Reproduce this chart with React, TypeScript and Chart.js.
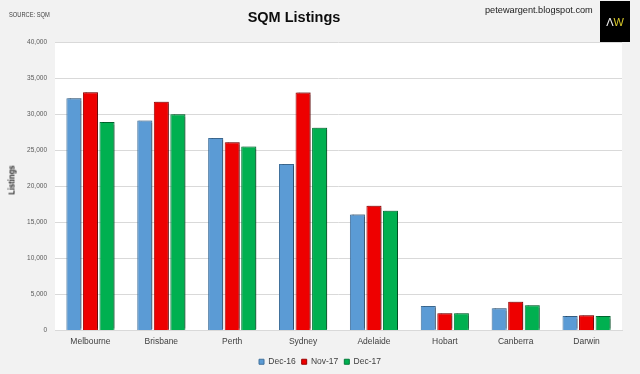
import React, { useEffect, useRef } from "react";
import { Chart, registerables } from "chart.js";

Chart.register(...registerables);

const categories = ["Melbourne", "Brisbane", "Perth", "Sydney", "Adelaide", "Hobart", "Canberra", "Darwin"];
const seriesNames = ["Dec-16", "Nov-17", "Dec-17"];
const dec16 = [32200, 29100, 26700, 23100, 16100, 3400, 3100, 2000];
const nov17 = [33050, 31700, 26100, 33000, 17300, 2400, 4000, 2100];
const dec17 = [28900, 30000, 25500, 28100, 16600, 2400, 3500, 2000];
const yMin = 0;
const yMax = 40000;
const yStep = 5000;

const SANS = "'Liberation Sans', Arial, sans-serif";

const plotBg = {
  id: "plotBg",
  beforeDraw(chart: any) {
    const { ctx, chartArea } = chart;
    if (!chartArea) return;
    ctx.save();
    ctx.fillStyle = "#ffffff";
    ctx.fillRect(chartArea.left, chartArea.top, chartArea.right - chartArea.left, chartArea.bottom - chartArea.top);
    ctx.restore();
  },
};

const barShadow = {
  id: "barShadow",
  beforeDatasetsDraw(chart: any) {
    const ctx = chart.ctx;
    ctx.save();
    ctx.shadowColor = "rgba(0,0,0,0.35)";
    ctx.shadowOffsetX = 1.5;
    ctx.shadowOffsetY = -1;
    ctx.shadowBlur = 1;
  },
  afterDatasetsDraw(chart: any) {
    chart.ctx.restore();
  },
};

export default function App() {
  const canvasRef = useRef<HTMLCanvasElement | null>(null);

  useEffect(() => {
    document.body.style.margin = "0";
    document.body.style.background = "#f2f2f2";
    const canvas = canvasRef.current;
    if (!canvas) return;
    const chart = new Chart(canvas, {
      type: "bar",
      data: {
        labels: categories,
        datasets: [
          { label: seriesNames[0], data: dec16, backgroundColor: "#5b9bd5", borderColor: "#41719c", borderWidth: 1 },
          { label: seriesNames[1], data: nov17, backgroundColor: "#ee0000", borderColor: "#9a0000", borderWidth: 1 },
          { label: seriesNames[2], data: dec17, backgroundColor: "#00b050", borderColor: "#007a38", borderWidth: 1 },
        ],
      },
      options: {
        animation: false,
        responsive: false,
        devicePixelRatio: 1,
        layout: { padding: { left: 0, right: 0, top: 42, bottom: -2 } },
        datasets: {
          bar: { categoryPercentage: 0.7, barPercentage: 0.91 },
        },
        plugins: {
          title: { display: false },
          tooltip: { enabled: false },
          legend: {
            position: "bottom",
            labels: {
              boxWidth: 5,
              boxHeight: 5,
              padding: 6,
              color: "#404040",
              font: { family: SANS, size: 8.5 },
            },
          },
        },
        scales: {
          x: {
            grid: { display: false, drawTicks: false },
            border: { display: true, color: "#d9d9d9" },
            ticks: { color: "#404040", padding: 6, font: { family: SANS, size: 8.5 }, maxRotation: 0, autoSkip: false },
            afterFit(scale: any) {
              scale.height = 21;
            },
          },
          y: {
            min: yMin,
            max: yMax,
            grid: { color: "#d9d9d9", drawTicks: false },
            border: { display: false },
            ticks: {
              stepSize: yStep,
              padding: 8,
              color: "#595959",
              font: { family: SANS, size: 6.5 },
              callback: (v: any) => Number(v).toLocaleString("en-US"),
            },
            afterFit(scale: any) {
              scale.width = 55;
            },
          },
          yRight: {
            position: "right",
            display: true,
            grid: { display: false, drawTicks: false },
            border: { display: false },
            ticks: { display: false },
            afterFit(scale: any) {
              scale.width = 18;
            },
          },
        },
      },
      plugins: [plotBg, barShadow],
    });
    return () => chart.destroy();
  }, []);

  return (
    <div style={{ position: "relative", width: 640, height: 374, background: "#f2f2f2", overflow: "hidden" }}>
      <canvas ref={canvasRef} width={640} height={374} style={{ position: "absolute", left: 0, top: 0, width: 640, height: 374, display: "block" }} />
      <div style={{ position: "absolute", left: 9, top: 11, fontFamily: SANS, fontSize: 7, lineHeight: "7px", color: "#404040", whiteSpace: "nowrap", transform: "scaleX(0.82)", transformOrigin: "left center" }}>
        SOURCE: SQM
      </div>
      <div style={{ position: "absolute", left: 194, top: 10.4, width: 200, textAlign: "center", fontFamily: SANS, fontWeight: "bold", fontSize: 14.5, lineHeight: "14.5px", color: "#0d0d0d", whiteSpace: "nowrap" }}>
        SQM Listings
      </div>
      <div style={{ position: "absolute", left: 485, top: 6, fontFamily: SANS, fontSize: 9.2, lineHeight: "9.2px", color: "#1a1a1a", whiteSpace: "nowrap" }}>
        petewargent.blogspot.com
      </div>
      <div style={{ position: "absolute", left: 600, top: 1, width: 30, height: 41, background: "#000000", display: "flex", alignItems: "center", justifyContent: "center", fontFamily: SANS, fontSize: 11, color: "#ffffff" }}>
        <span style={{ color: "#f2f2f2" }}>Λ</span>
        <span style={{ color: "#d9c92a" }}>W</span>
      </div>
      <div style={{ position: "absolute", left: 12, top: 180, transform: "translate(-50%, -50%) rotate(-90deg) scaleX(0.85)", fontFamily: SANS, fontWeight: "bold", fontSize: 9, lineHeight: "9px", color: "#262626", whiteSpace: "nowrap" }}>
        Listings
      </div>
    </div>
  );
}
